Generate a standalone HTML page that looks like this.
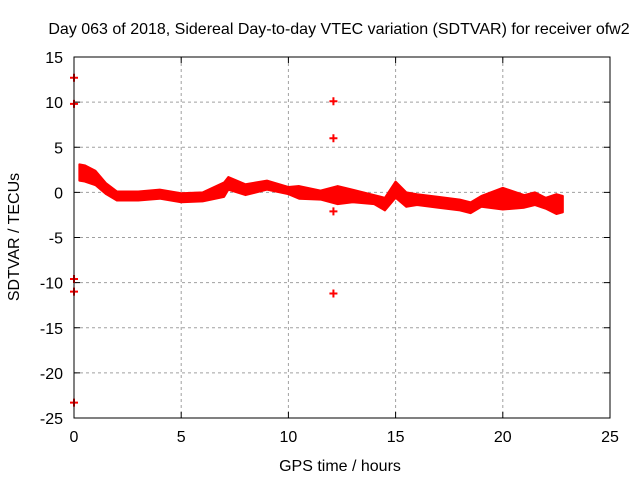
<!DOCTYPE html>
<html><head><meta charset="utf-8"><style>
body{margin:0;background:#fff}
svg text{font-family:"Liberation Sans",sans-serif;font-size:16px;fill:#000}
</style></head><body>
<svg id="chart" width="640" height="480" xmlns="http://www.w3.org/2000/svg">
<text x="339" y="34" text-anchor="middle">Day 063 of 2018, Sidereal Day-to-day VTEC variation (SDTVAR) for receiver ofw2</text>
<text x="340" y="471" text-anchor="middle">GPS time / hours</text>
<text transform="translate(19,237) rotate(-90)" text-anchor="middle">SDTVAR / TECUs</text>
<g id="grid"></g><g id="ticks"></g><g id="data"></g>
<rect x="74" y="57" width="536" height="361" fill="none" stroke="#000" stroke-width="1"/>
</svg>
<script>
const xTicks=[0,5,10,15,20,25];
const yTicks=[15,10,5,0,-5,-10,-15,-20,-25];
const bandHours=[0.25,0.5,1,1.5,2,3,4,5,6,7,7.2,8,9,10,10.5,11.5,12.3,13,14,14.5,15,15.5,16,17,18,18.5,19,20,21,21.5,22,22.5,22.8];
const bandCenter=[2.2,2.1,1.6,0.4,-0.4,-0.4,-0.2,-0.6,-0.5,0.3,1.0,0.3,0.8,0.2,0,-0.3,-0.3,-0.4,-0.8,-1.3,0.3,-0.8,-0.8,-1.1,-1.4,-1.7,-1.0,-0.7,-1.0,-0.7,-1.2,-1.3,-1.3];
const bandHalf=[0.9,0.9,0.8,0.6,0.5,0.5,0.5,0.5,0.5,0.8,0.7,0.6,0.5,0.4,0.7,0.5,1.0,0.7,0.5,0.7,0.9,0.8,0.6,0.6,0.6,0.6,0.6,1.2,0.7,0.7,0.6,1.1,0.9];
const outX=[0,0,0,0,0,12.1,12.1,12.1,12.1];
const outY=[12.7,9.8,-9.6,-11,-23.3,10.1,6,-11.2,-2.1];
const X=h=>74+h*536/25, Y=v=>57+(15-v)*361/40;
const NS="http://www.w3.org/2000/svg";
const mk=(p,t,a)=>{const e=document.createElementNS(NS,t);for(const k in a)e.setAttribute(k,a[k]);document.getElementById(p).appendChild(e);return e;};
xTicks.forEach(t=>{
 if(t>0&&t<25){const g=mk('grid','line',{x1:X(t),x2:X(t),y1:57,y2:418,stroke:'#a0a0a0','stroke-dasharray':'3,3'});
 
 }
 mk('ticks','line',{x1:X(t),x2:X(t),y1:418,y2:412,stroke:'#000'});
 mk('ticks','line',{x1:X(t),x2:X(t),y1:57,y2:63,stroke:'#000'});
 const l=mk('ticks','text',{x:X(t),y:442,'text-anchor':'middle'});l.textContent=t;
 
 
});
yTicks.forEach(t=>{
 if(t<15&&t>-25){const g=mk('grid','line',{x1:74,x2:610,y1:Y(t),y2:Y(t),stroke:'#a0a0a0','stroke-dasharray':'3,3'});
 
 }
 mk('ticks','line',{x1:74,x2:80,y1:Y(t),y2:Y(t),stroke:'#000'});
 mk('ticks','line',{x1:610,x2:604,y1:Y(t),y2:Y(t),stroke:'#000'});
 const l=mk('ticks','text',{x:63,y:Y(t)+6,'text-anchor':'end'});l.textContent=t;
 
 
});
let up=bandHours.map((h,i)=>X(h)+','+Y(bandCenter[i]+bandHalf[i]));
let dn=bandHours.map((h,i)=>X(h)+','+Y(bandCenter[i]-bandHalf[i])).reverse();
const band=mk('data','polygon',{points:up.concat(dn).join(' '),fill:'#ff0000',stroke:'#ff0000','stroke-width':2,'stroke-linejoin':'round'});


outX.forEach((h,i)=>{
 const x=X(h),y=Y(outY[i]);
 const p=mk('data','path',{d:`M${x-4},${y}H${x+4}M${x},${y-4}V${y+4}`,stroke:'#ff0000','stroke-width':2});
 
 
});
</script>
</body></html>
